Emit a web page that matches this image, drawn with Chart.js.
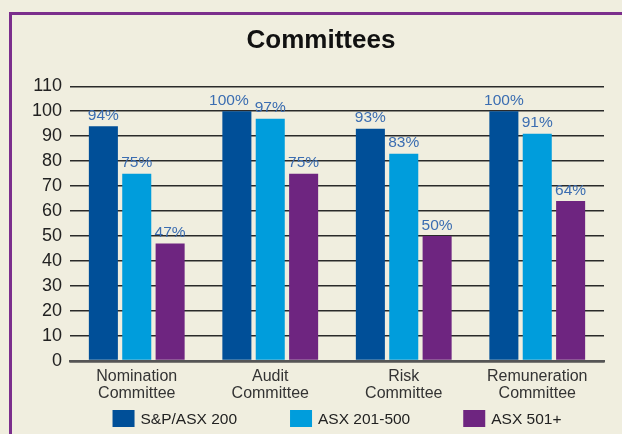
<!DOCTYPE html>
<html>
<head>
<meta charset="utf-8">
<script src="https://cdn.jsdelivr.net/npm/chart.js@4"></script>
<style>
  html, body { margin: 0; padding: 0; background: #f0eedf; }
  #wrap { position: relative; width: 622px; height: 434px; overflow: hidden; }
  #frame { position: absolute; left: 9px; top: 12px; width: 700px; height: 500px;
           border: 3px solid #7b2e8c; box-sizing: border-box; }
  canvas { position: absolute; left: 0; top: 0; }
</style>
</head>
<body>
<div id="wrap">
  <div id="frame"></div>
  <canvas id="c" width="622" height="434"></canvas>
</div>
<script>
const categories = [["Nomination","Committee"],["Audit","Committee"],["Risk","Committee"],["Remuneration","Committee"]];
const seriesNames = ["S&P/ASX 200","ASX 201-500","ASX 501+"];
const asx200 = [94, 100, 93, 100];
const asx201to500 = [75, 97, 83, 91];
const asx501plus = [47, 75, 50, 64];
const yTicks = [0,10,20,30,40,50,60,70,80,90,100,110];
const colors = ["#004f98", "#009ddc", "#6e2580"];

const FONT = "'Liberation Sans', Arial, Helvetica, sans-serif";

// Value labels above each bar; a label that would collide with its right
// neighbour inside the same category is nudged left.
const valueLabels = {
  id: 'valueLabels',
  afterDatasetsDraw(chart) {
    const ctx = chart.ctx;
    ctx.save();
    ctx.font = "15.5px " + FONT;
    ctx.fillStyle = "#3b6db1";
    ctx.textAlign = "center";
    ctx.textBaseline = "bottom";
    const n = chart.data.labels.length;
    const dsCount = chart.data.datasets.length;
    for (let j = 0; j < n; j++) {
      const labs = [];
      for (let i = 0; i < dsCount; i++) {
        const bar = chart.getDatasetMeta(i).data[j];
        const text = chart.data.datasets[i].data[j] + "%";
        labs.push({ text, x: bar.x, y: bar.y - 3, w: ctx.measureText(text).width });
      }
      for (let i = dsCount - 2; i >= 0; i--) {
        const a = labs[i], b = labs[i + 1];
        const overlap = (a.x + a.w / 2 + 6) - (b.x - b.w / 2);
        if (overlap > 0 && Math.abs(a.y - b.y) < 16) a.x -= overlap;
      }
      labs.forEach(l => ctx.fillText(l.text, l.x, l.y));
    }
    ctx.restore();
  }
};

// Legend drawn from the datasets, spaced like the reference
const spacedLegend = {
  id: 'spacedLegend',
  afterDraw(chart) {
    const ctx = chart.ctx;
    const area = chart.chartArea;
    const boxW = 22, boxH = 17, textGap = 6, itemGap = 53;
    ctx.save();
    ctx.font = "15.5px " + FONT;
    const items = chart.data.datasets.map(ds => ({
      text: ds.label, color: ds.backgroundColor,
      w: boxW + textGap + ctx.measureText(ds.label).width
    }));
    const total = items.reduce((s, it) => s + it.w, 0) + itemGap * (items.length - 1);
    let x = (area.left + area.right) / 2 - total / 2;
    const boxTop = area.bottom + 49;
    ctx.textBaseline = "middle";
    ctx.textAlign = "left";
    items.forEach(it => {
      ctx.fillStyle = it.color;
      ctx.fillRect(x, boxTop, boxW, boxH);
      ctx.fillStyle = "#222222";
      ctx.fillText(it.text, x + boxW + textGap, boxTop + boxH / 2 + 1);
      x += it.w + itemGap;
    });
    ctx.restore();
  }
};

new Chart(document.getElementById('c'), {
  type: 'bar',
  data: {
    labels: categories,
    datasets: [
      { label: seriesNames[0], data: asx200, backgroundColor: colors[0] },
      { label: seriesNames[1], data: asx201to500, backgroundColor: colors[1] },
      { label: seriesNames[2], data: asx501plus, backgroundColor: colors[2] }
    ]
  },
  options: {
    responsive: false,
    animation: false,
    devicePixelRatio: 1,
    layout: { padding: { left: 30, right: 10, top: 0, bottom: 28 } },
    datasets: { bar: { categoryPercentage: 0.75, barPercentage: 0.87 } },
    scales: {
      x: {
        grid: { display: false, drawTicks: false },
        border: { display: true, color: '#555555', width: 2.5 },
        ticks: { color: '#333333', font: { family: FONT, size: 16, lineHeight: 1.06 }, padding: 7, maxRotation: 0, autoSkip: false },
        afterFit(scale) { scale.height = 45; }
      },
      y: {
        min: 0, max: 110,
        afterBuildTicks(scale) { scale.ticks = yTicks.map(v => ({ value: v })); },
        grid: {
          drawTicks: false,
          color: ctx => ctx.tick && ctx.tick.value === 0 ? '#555555' : '#2a2a2a',
          lineWidth: ctx => ctx.tick && ctx.tick.value === 0 ? 2.5 : 1.4
        },
        border: { display: false },
        ticks: { color: '#222222', font: { family: FONT, size: 18 }, padding: 8, autoSkip: false, stepSize: 10 },
        afterFit(scale) { scale.width = 40; }
      },
      yRight: {
        position: 'right',
        display: true,
        grid: { display: false, drawTicks: false },
        border: { display: false },
        ticks: { display: false },
        afterFit(scale) { scale.width = 8; }
      }
    },
    plugins: {
      title: {
        display: true,
        text: 'Committees',
        color: '#111111',
        font: { family: FONT, size: 26, weight: 'bold' },
        padding: { top: 25, bottom: 30 }
      },
      legend: { display: false },
      tooltip: { enabled: false }
    }
  },
  plugins: [valueLabels, spacedLegend]
});
</script>
</body>
</html>
